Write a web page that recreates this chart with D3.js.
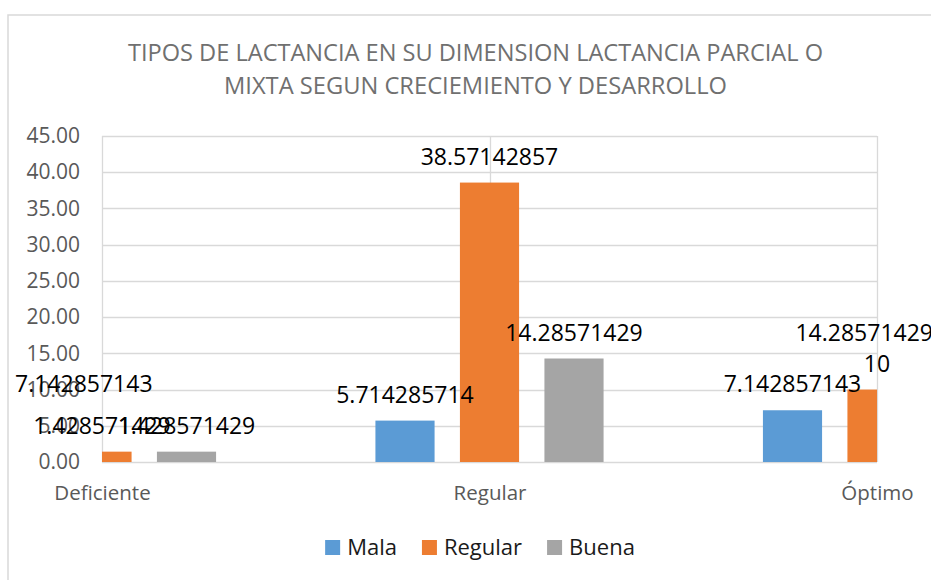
<!DOCTYPE html>
<html><head><meta charset="utf-8">
<script src="https://cdn.jsdelivr.net/npm/d3@7"></script>
<style>body{margin:0;background:#fff}svg{display:block}</style>
</head><body><svg id="c" width="931" height="580"></svg>
<script>
const categories = ["Deficiente", "Regular", "Óptimo"];
const seriesNames = ["Mala", "Regular", "Buena"];
const mala = [7.142857143, 5.714285714, 7.142857143];
const regular = [1.428571429, 38.57142857, 10];
const buena = [1.428571429, 14.28571429, 14.28571429];
const yTicks = [0, 5, 10, 15, 20, 25, 30, 35, 40, 45];
const titleLines = ["TIPOS DE LACTANCIA EN SU DIMENSION LACTANCIA PARCIAL O", "MIXTA SEGUN CRECIEMIENTO Y DESARROLLO"];
const colors = ["#5b9bd5", "#ed7d31", "#a5a5a5"];

const seriesValues = [mala, regular, buena];
const svg = d3.select("#c");
const FONT = "'Open Sans', sans-serif";

// chart area
const chart = {x0: 8, y0: 15, x1: 943, y1: 592};
svg.append("rect").attr("x", chart.x0).attr("y", chart.y0)
  .attr("width", chart.x1 - chart.x0).attr("height", chart.y1 - chart.y0)
  .attr("fill", "#fff").attr("stroke", "#d9d9d9").attr("stroke-width", 1.5);

// plot area
const P = {left: 102, right: 877, top: 136, bottom: 462};
const x = d3.scalePoint().domain(categories).range([P.left, P.right]);
const groupW = 253.5;
const xs = d3.scaleBand().domain(seriesNames).range([-groupW / 2, groupW / 2])
  .paddingInner(0.3).paddingOuter(0.15);
const y = d3.scaleLinear().domain([0, 45]).range([P.bottom, P.top]);

// title
const title = svg.append("g").attr("font-family", FONT).attr("fill", "#707070")
  .attr("font-size", 24).attr("text-anchor", "middle");
const titleW = [695, 503];
const titleY = [61, 94];
titleLines.forEach((t, i) => {
  title.append("text").attr("x", (chart.x0 + chart.x1) / 2).attr("y", titleY[i])
    .attr("textLength", titleW[i]).attr("lengthAdjust", "spacingAndGlyphs").text(t);
});

// gridlines
const grid = svg.append("g").attr("stroke", "#d9d9d9").attr("stroke-width", 1.3);
grid.selectAll("line.h").data(yTicks).join("line").attr("class", "h")
  .attr("x1", P.left).attr("x2", P.right)
  .attr("y1", d => Math.round(y(d)) + 0.5).attr("y2", d => Math.round(y(d)) + 0.5);
grid.selectAll("line.v").data(categories).join("line").attr("class", "v")
  .attr("x1", d => Math.round(x(d)) + 0.5).attr("x2", d => Math.round(x(d)) + 0.5)
  .attr("y1", P.top).attr("y2", P.bottom);

// y axis labels
const yAxis = svg.append("g").attr("transform", `translate(${P.left},0)`)
  .call(d3.axisLeft(y).tickValues(yTicks).tickFormat(d3.format(".2f")).tickSize(0).tickPadding(22));
yAxis.select(".domain").remove();
yAxis.selectAll("text").attr("font-family", FONT).attr("font-size", 21).attr("fill", "#595959");

// x axis labels
const xAxis = svg.append("g").attr("transform", `translate(0,${P.bottom})`)
  .call(d3.axisBottom(x).tickSize(0).tickPadding(0));
xAxis.select(".domain").remove();
xAxis.selectAll("text").attr("font-family", FONT).attr("font-size", 20.5).attr("fill", "#595959")
  .attr("dy", null).attr("y", 38);

// clip for bars
svg.append("clipPath").attr("id", "plotclip").append("rect")
  .attr("x", P.left).attr("y", P.top - 5).attr("width", P.right - P.left).attr("height", P.bottom - P.top + 5);

const rows = [];
categories.forEach((c, ci) => seriesNames.forEach((s, si) => rows.push({c, s, si, v: seriesValues[si][ci]})));

svg.append("g").attr("clip-path", "url(#plotclip)")
  .selectAll("rect").data(rows).join("rect")
  .attr("x", d => x(d.c) + xs(d.s))
  .attr("width", xs.bandwidth())
  .attr("y", d => y(d.v))
  .attr("height", d => y(0) - y(d.v))
  .attr("fill", d => colors[d.si]);

// data labels
const fmt = v => String(+v.toPrecision(10));
const labels = svg.append("g").attr("font-family", FONT).attr("font-size", 23).attr("fill", "#000")
  .attr("text-anchor", "middle");
labels.selectAll("text").data(rows).join("text")
  .attr("y", d => y(d.v) - 18)
  .text(d => fmt(d.v))
  .each(function(d) {
    const w = this.getComputedTextLength();
    const cx = x(d.c) + xs(d.s) + xs.bandwidth() / 2;
    const lo = chart.x0 + 7 + w / 2, hi = chart.x1 - 10 - w / 2;
    d3.select(this).attr("x", Math.max(lo, Math.min(hi, cx)));
  });

// legend
const leg = svg.append("g").attr("font-family", FONT).attr("font-size", 22).attr("fill", "#1a1a1a");
const items = leg.selectAll("g").data(seriesNames).join("g");
items.append("rect").attr("width", 15).attr("height", 15).attr("y", 540).attr("fill", (d, i) => colors[i]);
items.append("text").attr("x", 22).attr("y", 555).text(d => d);
let cursor = 0;
const widths = [];
items.each(function() { widths.push(22 + d3.select(this).select("text").node().getComputedTextLength()); });
const total = d3.sum(widths) + 25 * (widths.length - 1);
cursor = 480 - total / 2;
items.each(function(d, i) {
  d3.select(this).attr("transform", `translate(${cursor},0)`);
  cursor += widths[i] + 25;
});
</script>
</body></html>
